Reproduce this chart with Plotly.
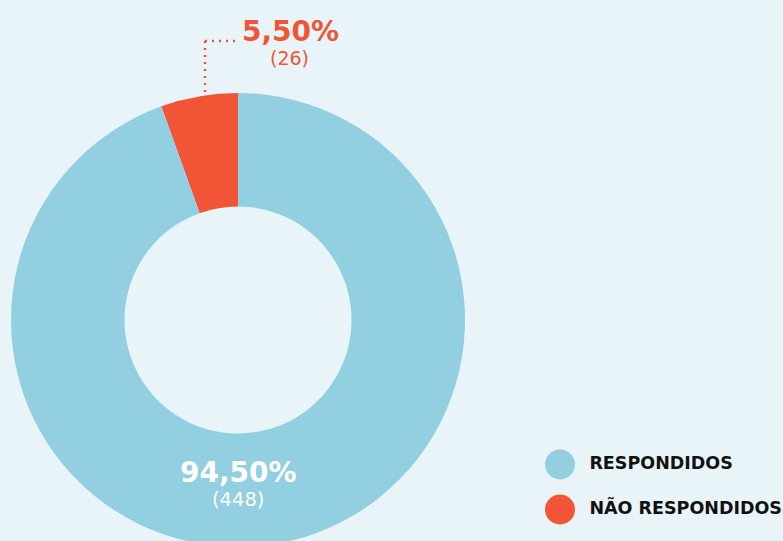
import plotly.graph_objects as go

categories = ["NÃO RESPONDIDOS", "RESPONDIDOS"]
counts = [26, 448]
percents = ["5,50%", "94,50%"]
colors = ["#F15535", "#92CFE0"]

legend_order = ["RESPONDIDOS", "NÃO RESPONDIDOS"]
legend_colors = ["#92CFE0", "#F15535"]

BG = "#E9F4F9"
RED = "#F15535"
FONT = "DejaVu Sans"
W, H = 783, 560  # a bit taller than the window so the ring gets cut at the bottom


def px_x(x):
    return x / W


def px_y(y):
    return 1 - y / H


share_red = counts[0] / sum(counts)

fig = go.Figure()
fig.add_trace(go.Pie(
    labels=categories, values=counts, marker=dict(colors=colors, line=dict(width=0)),
    hole=0.5, sort=False, direction="clockwise", rotation=-360 * share_red,
    textinfo="none", hoverinfo="skip", showlegend=False,
    domain=dict(x=[px_x(11), px_x(465)], y=[px_y(547), px_y(93)]),
))

# legend: circle swatches + bold labels
fig.add_trace(go.Scatter(
    x=[0, 0], y=[1, 0], mode="markers",
    marker=dict(size=30, color=legend_colors),
    showlegend=False, hoverinfo="skip", cliponaxis=False,
))
fig.add_trace(go.Scatter(
    x=[0.98, 0.98], y=[1, 0], mode="text",
    text=[f"<b>{t}</b>" for t in legend_order], textposition="middle right",
    textfont=dict(family=FONT, size=17.5, color="#111111"),
    showlegend=False, hoverinfo="skip", cliponaxis=False,
))

ann = dict(xref="paper", yref="paper", showarrow=False, xanchor="center", yanchor="middle")
fig.add_annotation(x=px_x(238), y=px_y(472), text=f"<b>{percents[1]}</b>",
                   font=dict(family=FONT, size=28, color="white"), **ann)
fig.add_annotation(x=px_x(238), y=px_y(499), text=f"({counts[1]})",
                   font=dict(family=FONT, size=19.5, color="white"), **ann)
fig.add_annotation(x=px_x(290), y=px_y(31), text=f"<b>{percents[0]}</b>",
                   font=dict(family=FONT, size=28, color=RED), **ann)
fig.add_annotation(x=px_x(289), y=px_y(58), text=f"({counts[0]})",
                   font=dict(family=FONT, size=19, color=RED), **ann)

dot = dict(color=RED, width=2.5, dash="2px,5px")
fig.add_shape(type="line", xref="paper", yref="paper",
              x0=px_x(205), x1=px_x(238), y0=px_y(41), y1=px_y(41), line=dot)
fig.add_shape(type="line", xref="paper", yref="paper",
              x0=px_x(205), x1=px_x(205), y0=px_y(41), y1=px_y(93), line=dot)

fig.update_layout(
    width=W, height=H,
    margin=dict(l=0, r=0, t=0, b=0),
    paper_bgcolor=BG, plot_bgcolor=BG,
    xaxis=dict(domain=[px_x(530), px_x(590)], range=[-1, 1], visible=False),
    yaxis=dict(domain=[px_y(532), px_y(442)], range=[-0.5, 1.5], visible=False),
)

fig.write_html(
    "out.html",
    config={"displayModeBar": False},
    post_script="document.body.style.margin='0';document.body.style.overflow='hidden';",
)
